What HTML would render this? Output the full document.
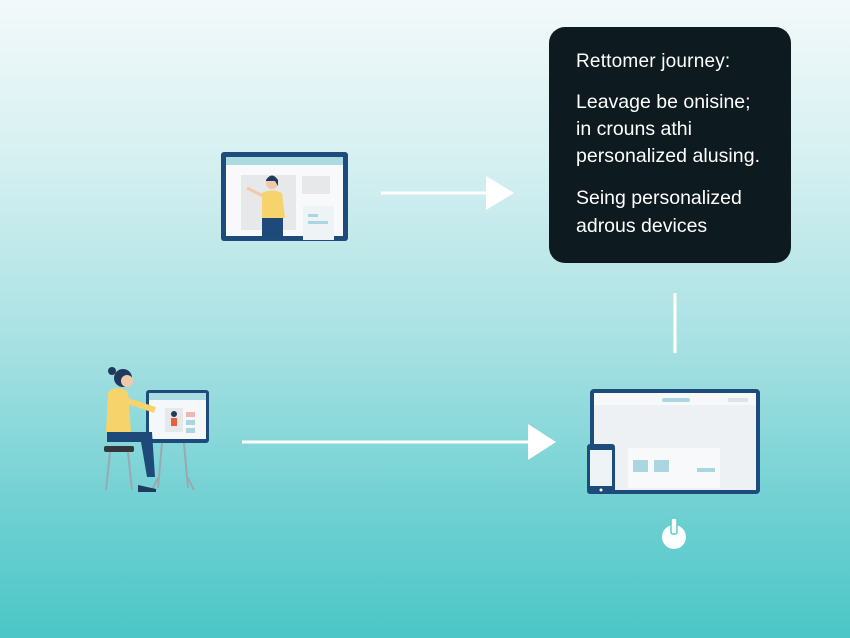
<!DOCTYPE html>
<html><head><style>
html,body{margin:0;padding:0}
body{width:850px;height:638px;overflow:hidden;background:linear-gradient(to bottom,#f3f9fa 0%,#d6f0f1 25%,#a6e0e2 55%,#6fd0d2 80%,#4cc6c7 100%);font-family:"Liberation Sans",sans-serif}
</style></head><body>
<svg width="850" height="638" viewBox="0 0 850 638" xmlns="http://www.w3.org/2000/svg" style="position:absolute;left:0;top:0">
<rect x="549" y="27" width="242" height="236" rx="16" fill="#0d1a20"/>
<g fill="#fff" font-family="Liberation Sans, sans-serif" font-size="19.5">
<text x="576" y="67" font-size="19" style="letter-spacing:0.2px">Rettomer journey:</text>
<text x="576" y="108">Leavage be onisine;</text>
<text x="576" y="135">in crouns athi</text>
<text x="576" y="162" textLength="184">personalized alusing.</text>
<text x="576" y="204">Seing personalized</text>
<text x="576" y="232">adrous devices</text>
</g>
<line x1="381" y1="193" x2="490" y2="193" stroke="#fff" stroke-width="3"/>
<polygon points="486,176 514,193 486,210" fill="#fff"/>
<line x1="242" y1="442" x2="530" y2="442" stroke="#fff" stroke-width="3"/>
<polygon points="528,424 556,442 528,460" fill="#fff"/>
<line x1="675" y1="293" x2="675" y2="353" stroke="#fff" stroke-width="3"/>
<rect x="221" y="152" width="127" height="89" rx="3" fill="#1d4b7c"/>
<rect x="226" y="157" width="117" height="79" fill="#f7f9fa"/>
<rect x="226" y="157" width="117" height="8" fill="#a9dbe0"/>
<rect x="241" y="175" width="55" height="55" fill="#e6e8ea"/>
<rect x="302" y="176" width="28" height="18" fill="#e6e8ea"/>
<rect x="303" y="206" width="31" height="34" fill="#eef3f5"/>
<rect x="308" y="214" width="10" height="3" fill="#a9d6df"/>
<rect x="308" y="221" width="20" height="3" fill="#a9d6df"/>
<circle cx="272" cy="183" r="6" fill="#f1c9a8"/>
<path d="M266 180 q6 -9 12 0 l0 6 -3 -5 -9 0z" fill="#1f3a5c"/>
<path d="M262 193 q10 -5 20 0 l3 25 -23 0z" fill="#f7d36c"/>
<path d="M263 196 l-16 -8" stroke="#f1c9a8" stroke-width="3"/>
<rect x="262" y="218" width="21" height="18" fill="#1e4a7a"/>
<rect x="146" y="390" width="63" height="53" rx="3" fill="#1d4b7c"/>
<rect x="149" y="393" width="57" height="46" fill="#f4f8fa"/>
<rect x="149" y="393" width="57" height="7" fill="#a9dbe0"/>
<rect x="165" y="408" width="18" height="24" fill="#e6e8ea"/>
<rect x="186" y="412" width="9" height="5" fill="#f0b5b5"/>
<rect x="186" y="420" width="9" height="5" fill="#a9d6df"/>
<rect x="186" y="428" width="9" height="5" fill="#a9d6df"/>
<circle cx="174" cy="414" r="3" fill="#1f3a5c"/>
<rect x="171" y="418" width="6" height="8" fill="#e5603b"/>
<path d="M162 443 l-4 45 M184 443 l4 45 M158 478 l-6 12 M188 478 l6 12" stroke="#9aa8b2" stroke-width="2" fill="none"/>
<circle cx="123" cy="378" r="9" fill="#1f3a5c"/>
<circle cx="112" cy="371" r="4" fill="#1f3a5c"/>
<circle cx="127" cy="381" r="6" fill="#f1c9a8"/>
<path d="M108 392 q10 -8 20 0 l3 40 -25 0z" fill="#f7d36c"/>
<path d="M125 400 l30 10" stroke="#f7d36c" stroke-width="6"/>
<path d="M107 432 l45 0 l3 45 -8 0 -6 -35 -34 0z" fill="#1e4a7a"/>
<rect x="104" y="446" width="30" height="6" rx="2" fill="#34383c"/>
<path d="M110 452 l-4 38 M128 452 l4 38" stroke="#9aa8b2" stroke-width="2"/>
<path d="M138 485 l18 4 0 3 -18 0z" fill="#1f3a5c"/>
<rect x="590" y="389" width="170" height="105" rx="4" fill="#1d4b7c"/>
<rect x="594" y="393" width="162" height="97" fill="#eef1f3"/>
<rect x="594" y="393" width="162" height="12" fill="#f6f8f9"/>
<rect x="662" y="398" width="28" height="4" rx="2" fill="#a9d6df"/>
<rect x="728" y="398" width="20" height="4" fill="#dde3e6"/>
<rect x="628" y="448" width="92" height="40" fill="#f7f9fa"/>
<rect x="633" y="460" width="15" height="12" fill="#a9d6df"/>
<rect x="654" y="460" width="15" height="12" fill="#a9d6df"/>
<rect x="697" y="468" width="18" height="4" fill="#a9d6df"/>
<rect x="587" y="444" width="28" height="50" rx="3" fill="#1d4b7c"/>
<rect x="590" y="450" width="22" height="36" fill="#eef3f5"/>
<circle cx="601" cy="490" r="1.5" fill="#fff"/>
<circle cx="674" cy="537" r="12" fill="#fff"/>
<rect x="671" y="518" width="6" height="16" rx="2" fill="#fff" stroke="#5ccdce" stroke-width="1.5"/>
</svg>
</body></html>
